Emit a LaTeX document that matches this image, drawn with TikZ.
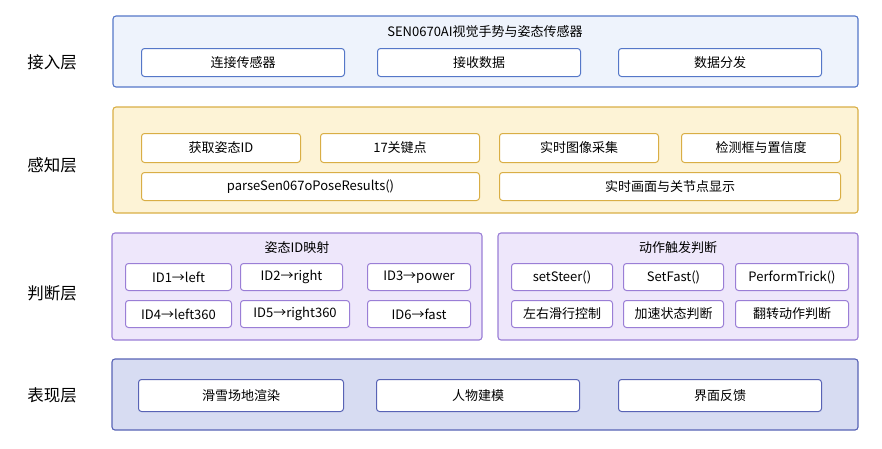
\documentclass[tikz,border=0pt]{standalone}
\usepackage{fontspec}
\setmainfont{Noto Sans CJK SC}
\begin{document}
\begin{tikzpicture}[x=1pt,y=-1pt,
 inb/.style={draw=#1,fill=white,line width=1pt,rounded corners=3pt,font=\fontsize{13}{15}\selectfont},
 lbl/.style={font=\fontsize{16.5}{19}\selectfont},
 ttl/.style={font=\fontsize{13}{15}\selectfont}]
\useasboundingbox (0,0) rectangle (882,448);
\definecolor{bB}{HTML}{5577C8}\definecolor{bF}{HTML}{EEF3FC}
\definecolor{yB}{HTML}{D9AE45}\definecolor{yF}{HTML}{FDF3D6}
\definecolor{pB}{HTML}{9A7ED6}\definecolor{pF}{HTML}{EEE7FB}
\definecolor{dB}{HTML}{5863B5}\definecolor{dF}{HTML}{D7DCF2}
% layer 1
\node[lbl] (l1) at (52,62) {接入层};
\draw[draw=bB,fill=bF,line width=1.1pt,rounded corners=3pt] (113,16) rectangle (858,87);
\node[ttl] (t1) at (485,32) {SEN0670AI视觉手势与姿态传感器};
\foreach \a/\b/\t [count=\i] in {141/344/连接传感器,377/580/接收数据,618/821/数据分发}
 \node[inb=bB,minimum width={\b-\a},minimum height=28,anchor=north west] (a\i) at (\a,48) {\t};
% layer 2
\node[lbl] (l2) at (52,165) {感知层};
\draw[draw=yB,fill=yF,line width=1.1pt,rounded corners=3pt] (113,107) rectangle (858,213);
\foreach \a/\b/\t [count=\i] in {141/300/获取姿态ID,320/479/17关键点,499/658/实时图像采集,681/840/检测框与置信度}
 \node[inb=yB,minimum width={\b-\a},minimum height=29,anchor=north west] (b\i) at (\a,133) {\t};
\foreach \a/\b/\t [count=\i] in {141/479/parseSen067oPoseResults(),499/840/实时画面与关节点显示}
 \node[inb=yB,minimum width={\b-\a},minimum height=28,anchor=north west] (c\i) at (\a,172) {\t};
% layer 3
\node[lbl] (l3) at (52,293) {判断层};
\draw[draw=pB,fill=pF,line width=1.1pt,rounded corners=3pt] (112,233) rectangle (482,340);
\draw[draw=pB,fill=pF,line width=1.1pt,rounded corners=3pt] (498,233) rectangle (858,340);
\node[ttl] (t3a) at (297,248) {姿态ID映射};
\node[ttl] (t3b) at (678,248) {动作触发判断};
\foreach \a/\b/\t [count=\i] in {125/231/ID1→left,240/342/ID2→right,367/470/ID3→power}
 \node[inb=pB,minimum width={\b-\a},minimum height=27,anchor=north west] (d\i) at (\a,263) {\t};
\foreach \a/\b/\t [count=\i] in {125/231/ID4→left360,240/349/ID5→right360,367/470/ID6→fast}
 \node[inb=pB,minimum width={\b-\a},minimum height=27,anchor=north west] (e\i) at (\a,300) {\t};
\foreach \a/\b/\t [count=\i] in {511/612/setSteer(),623/723/SetFast(),735/848/PerformTrick()}
 \node[inb=pB,minimum width={\b-\a},minimum height=27,anchor=north west] (f\i) at (\a,263) {\t};
\foreach \a/\b/\t [count=\i] in {511/612/左右滑行控制,623/723/加速状态判断,735/848/翻转动作判断}
 \node[inb=pB,minimum width={\b-\a},minimum height=27,anchor=north west] (g\i) at (\a,300) {\t};
% layer 4
\node[lbl] (l4) at (52,395) {表现层};
\draw[draw=dB,fill=dF,line width=1.1pt,rounded corners=3pt] (112,359) rectangle (858,430);
\foreach \a/\b/\t [count=\i] in {138/343/滑雪场地渲染,376/579/人物建模,618/821/界面反馈}
 \node[inb=dB,minimum width={\b-\a},minimum height=32,anchor=north west] (h\i) at (\a,379) {\t};
\end{tikzpicture}
\end{document}
